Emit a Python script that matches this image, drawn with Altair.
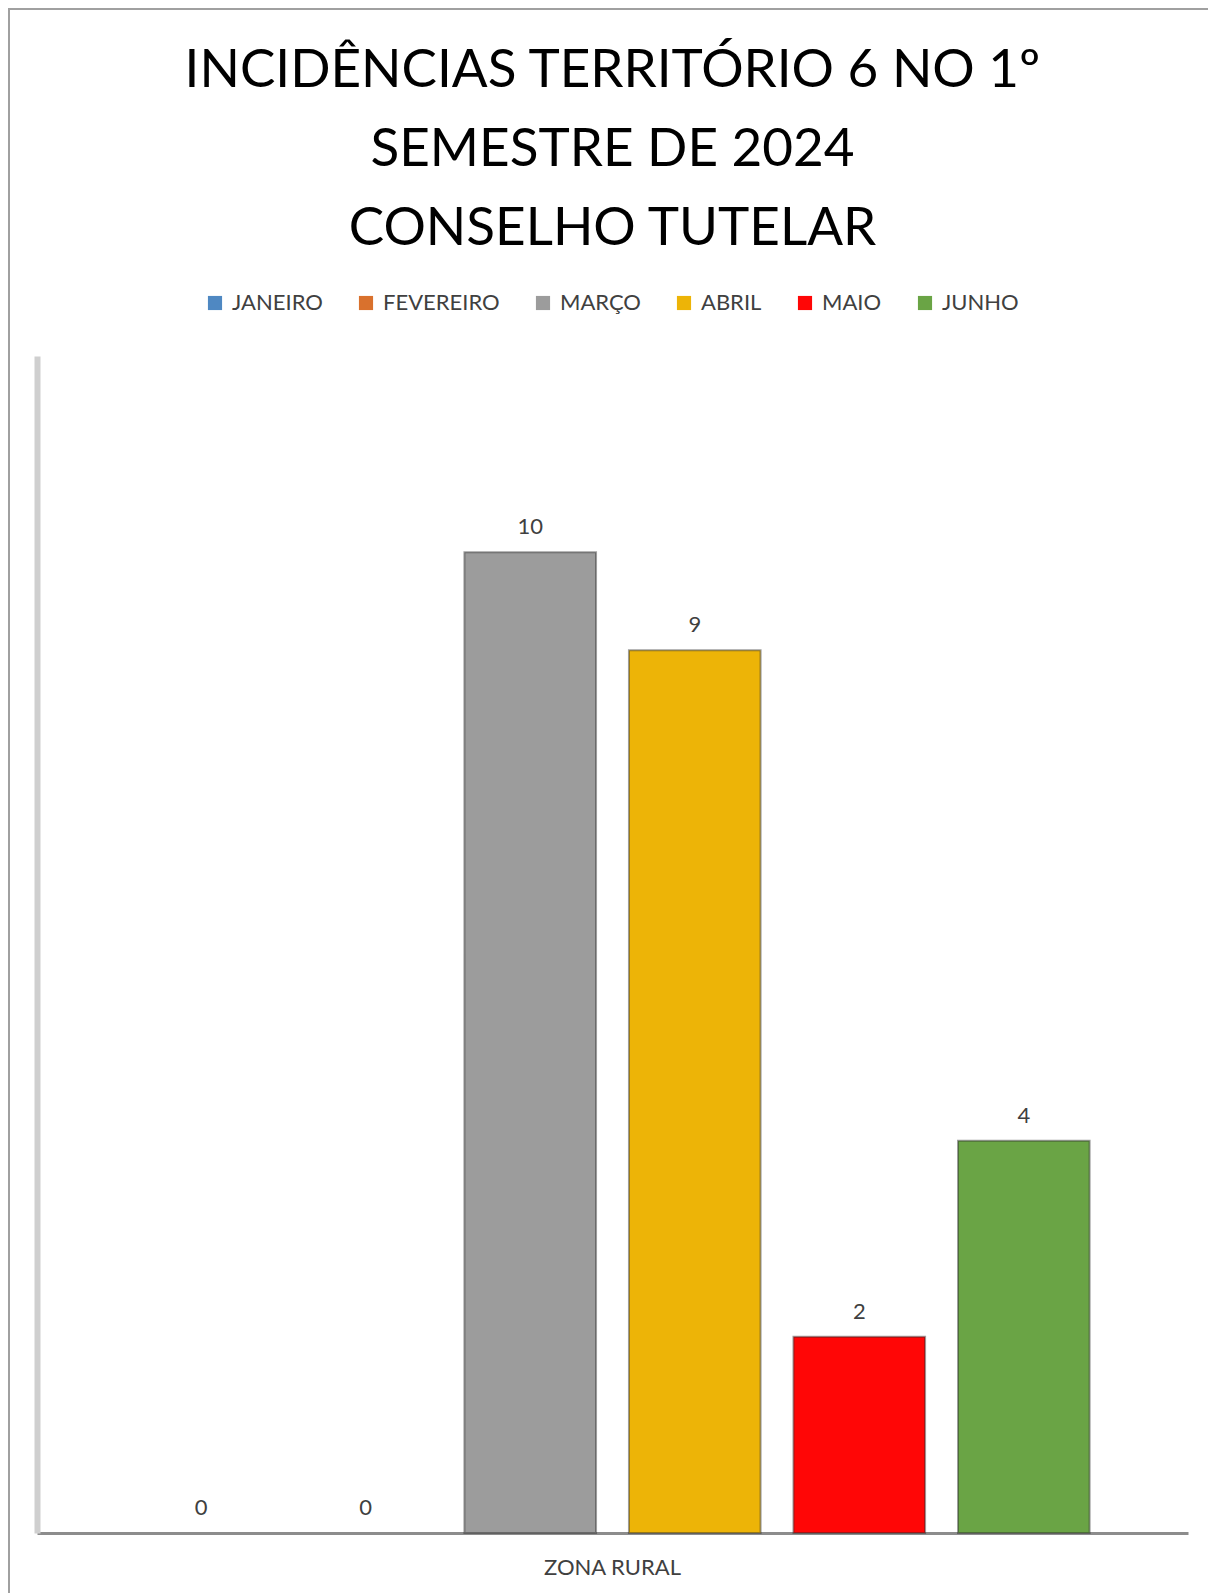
import altair as alt
import pandas as pd

categorias = ["ZONA RURAL"]
meses = ["JANEIRO", "FEVEREIRO", "MARÇO", "ABRIL", "MAIO", "JUNHO"]
valores = [0, 0, 10, 9, 2, 4]
cores = ["#4F88C2", "#D9712D", "#9C9C9C", "#EDB407", "#FF0606", "#6AA445"]
titulo = ["INCIDÊNCIAS TERRITÓRIO 6 NO 1º", "SEMESTRE DE 2024", "CONSELHO TUTELAR"]

df = pd.DataFrame({
    "categoria": [categorias[0]] * len(meses),
    "mes": meses,
    "valor": valores,
})

FONT = "Lato"
W, H = 1151, 1177

base = alt.Chart(df).encode(
    x=alt.X(
        "categoria:N",
        title=None,
        scale=alt.Scale(paddingInner=0, paddingOuter=0.083),
        axis=alt.Axis(
            labelAngle=0, ticks=False, labelFontSize=22, labelColor="#404040",
            labelFont=FONT, labelPadding=24, domainColor="#8C8C8C", domainWidth=3,
        ),
    ),
    xOffset=alt.XOffset("mes:N", sort=meses,
                        scale=alt.Scale(paddingInner=0.2, paddingOuter=0.1)),
    y=alt.Y("valor:Q", scale=alt.Scale(domain=[0, 12]),
            axis=alt.Axis(labels=False, ticks=False, title=None, grid=False,
                          domainColor="#CFCFCF", domainWidth=6)),
)

bars = base.mark_bar(stroke="#2b2b2b", strokeWidth=2).encode(
    color=alt.Color(
        "mes:N", sort=meses,
        scale=alt.Scale(domain=meses, range=cores),
        legend=alt.Legend(
            title=None, orient="none", direction="horizontal", columns=6,
            legendX=167, legendY=-64, symbolType="square", symbolSize=200,
            symbolStrokeWidth=0, labelFontSize=22, labelFont=FONT,
            labelColor="#404040", columnPadding=32, labelOffset=6,
        ),
    ),
    strokeOpacity=alt.condition("datum.valor > 0", alt.value(0.45), alt.value(0)),
)

labels = base.mark_text(
    baseline="alphabetic", dy=-18, fontSize=22, font=FONT, color="#404040"
).encode(text="valor:Q")

frame_df = pd.DataFrame({"k": [0]})
left_border = alt.Chart(frame_df).mark_rule(color="#A0A0A0", strokeWidth=2).encode(
    x=alt.value(-28), y=alt.value(-348), y2=alt.value(H + 60)
)
top_border = alt.Chart(frame_df).mark_rule(color="#A0A0A0", strokeWidth=2).encode(
    x=alt.value(-28), x2=alt.value(W + 20), y=alt.value(-347)
)

chart = alt.layer(left_border, top_border, bars, labels).properties(
    width=W,
    height=H,
    padding={"left": 29, "top": 348, "right": 20, "bottom": 60},
    autosize=alt.AutoSizeParams(type="none"),
    title=alt.TitleParams(
        text=titulo, fontSize=53, font=FONT, fontWeight="normal", color="#000000",
        anchor="middle", lineHeight=79, baseline="alphabetic", offset=0, dy=291,
    ),
).configure_view(stroke=None)

chart.save("out.html", embed_options={"renderer": "svg", "actions": False})
